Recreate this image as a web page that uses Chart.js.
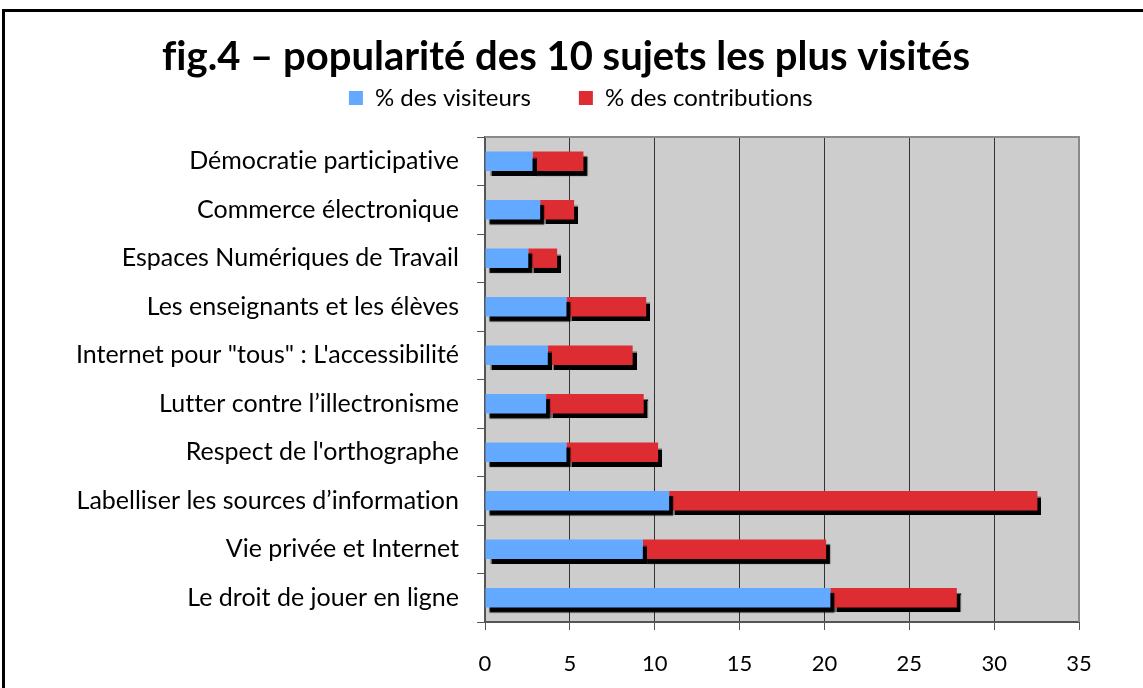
<!DOCTYPE html>
<html>
<head>
<meta charset="utf-8">
<script src="https://cdn.jsdelivr.net/npm/chart.js@4"></script>
<style>
  html, body { margin: 0; padding: 0; background: #fff; overflow: hidden; }
  #frame { position: absolute; left: 2px; top: 9px; width: 1300px; height: 900px;
           border-left: 3px solid #000; border-top: 3px solid #000; }
  #wrap { position: absolute; left: 0; top: 0; width: 1143px; height: 688px; }
</style>
</head>
<body>
<div id="frame"></div>
<div id="wrap"><canvas id="barChart" width="1143" height="688"></canvas></div>
<script>
const sujets = [
    'Démocratie participative',
    'Commerce électronique',
    'Espaces Numériques de Travail',
    'Les enseignants et les élèves',
    'Internet pour "tous" : L\'accessibilité',
    'Lutter contre l’illectronisme',
    'Respect de l\'orthographe',
    'Labelliser les sources d’information',
    'Vie privée et Internet',
    'Le droit de jouer en ligne'
];
const visiteurs = [2.8, 3.25, 2.55, 4.8, 3.7, 3.6, 4.8, 10.85, 9.3, 20.35];
const contributions = [3.0, 2.0, 1.7, 4.7, 5.0, 5.75, 5.4, 21.7, 10.8, 7.45];
const xTicks = [0, 5, 10, 15, 20, 25, 30, 35];

const fontFamily = 'Lato, "Open Sans", sans-serif';

// fond gris de la zone de tracé + bordure haut/droite
const plotBackground = {
    id: 'plotBackground',
    beforeDraw(chart) {
        const { ctx, chartArea } = chart;
        ctx.textRendering = 'optimizeSpeed'; // pas de ligatures "ti"
        ctx.save();
        ctx.fillStyle = '#cdcdcd';
        ctx.fillRect(chartArea.left, chartArea.top, chartArea.width, chartArea.height);
        ctx.restore();
    },
    afterDraw(chart) {
        const { ctx, chartArea } = chart;
        ctx.save();
        ctx.strokeStyle = '#8a8a8a';
        ctx.lineWidth = 2;
        ctx.beginPath();
        ctx.moveTo(chartArea.left, chartArea.top);
        ctx.lineTo(chartArea.right, chartArea.top);
        ctx.lineTo(chartArea.right, chartArea.bottom);
        ctx.stroke();
        ctx.restore();
    }
};

// la légende est placée un peu plus haut / à droite que ce que fait Chart.js
const legendShift = {
    id: 'legendShift',
    afterLayout(chart) {
        const lg = chart.legend;
        lg.top -= 17;
        lg.bottom -= 17;
        lg.left += 15;
        lg.right += 15;
    }
};

// ombre noire sous les barres
const barShadow = {
    id: 'barShadow',
    beforeDatasetsDraw(chart) {
        const ctx = chart.ctx;
        ctx.save();
        ctx.shadowColor = '#000';
        ctx.shadowOffsetX = 4;
        ctx.shadowOffsetY = 5;
        ctx.shadowBlur = 1;
    },
    afterDatasetsDraw(chart) {
        chart.ctx.restore();
    }
};

const ctx = document.getElementById('barChart').getContext('2d');
const chart = new Chart(ctx, {
    type: 'bar',
    data: {
        labels: sujets,
        datasets: [{
            label: '% des visiteurs',
            data: visiteurs,
            backgroundColor: 'rgb(99, 169, 255)',
            borderWidth: 0,
            barPercentage: 0.4,
            categoryPercentage: 1
        }, {
            label: '% des contributions',
            data: contributions,
            backgroundColor: 'rgb(222, 44, 51)',
            borderWidth: 0,
            barPercentage: 0.4,
            categoryPercentage: 1
        }]
    },
    options: {
        indexAxis: 'y',
        responsive: false,
        animation: false,
        layout: { padding: { top: 14, right: 64, left: 53, bottom: 0 } },
        plugins: {
            tooltip: { enabled: false },
            title: {
                display: true,
                text: 'fig.4 – popularité des 10 sujets les plus visités',
                color: '#000',
                font: { family: fontFamily, size: 40, weight: 'bold' },
                padding: { top: 19, bottom: -26 }
            },
            legend: {
                display: true,
                position: 'top',
                labels: {
                    color: '#000',
                    font: { family: fontFamily, size: 24 },
                    boxWidth: 14,
                    boxHeight: 14,
                    padding: 48
                }
            }
        },
        scales: {
            x: {
                stacked: true,
                min: 0,
                max: 35,
                afterBuildTicks(scale) {
                    scale.ticks = xTicks.map(v => ({ value: v }));
                },
                afterFit(scale) { scale.height = 66; },
                grid: {
                    color: '#333',
                    lineWidth: 1,
                    tickLength: 8,
                    tickColor: '#555'
                },
                border: { color: '#555', width: 2 },
                ticks: {
                    color: '#000',
                    padding: 21,
                    font: { family: fontFamily, size: 22 }
                }
            },
            y: {
                stacked: true,
                afterFit(scale) { scale.width = 432; },
                grid: {
                    offset: true,
                    drawOnChartArea: false,
                    tickLength: 8,
                    color: '#555'
                },
                border: { color: '#555', width: 2 },
                ticks: {
                    color: '#000',
                    padding: 18,
                    font: { family: fontFamily, size: 25 }
                }
            }
        }
    },
    plugins: [plotBackground, legendShift, barShadow]
});
</script>
</body>
</html>
